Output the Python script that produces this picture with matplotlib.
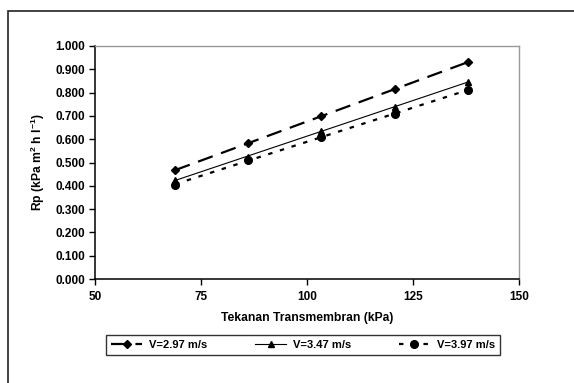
import numpy as np
import matplotlib
matplotlib.use("Agg")
import matplotlib.pyplot as plt
from matplotlib.patches import Rectangle

plt.rcParams['font.family'] = ['Liberation Sans', 'DejaVu Sans']
plt.rcParams['mathtext.default'] = 'regular'

# data (tekanan transmembran, kPa)
tmp = [68.9, 86.2, 103.4, 120.7, 137.9]
rp_297 = [0.467, 0.583, 0.700, 0.815, 0.930]
rp_347 = [0.425, 0.525, 0.635, 0.740, 0.845]
rp_397 = [0.405, 0.510, 0.610, 0.710, 0.810]
labels = ['V=2.97 m/s', 'V=3.47 m/s', 'V=3.97 m/s']

W, H = 574, 383
fig = plt.figure(figsize=(W / 100, H / 100), dpi=100)
fig.patch.set_facecolor('white')

# outer chart border
fig.patches.append(Rectangle((8 / W, -0.1), 1.2, (H - 11) / H + 0.1,
                             transform=fig.transFigure, fill=False,
                             edgecolor='#222222', linewidth=1.2))

ax = fig.add_axes([95 / W, 1 - 279 / H, (519 - 95) / W, (279 - 46) / H])

styles = [
    dict(marker='D', ms=4, ls=(0, (7, 4)), lw=1.6),
    dict(marker='^', ms=5, ls='-', lw=0.8),
    dict(marker='o', ms=5.5, ls=(0, (2, 3.5)), lw=1.6),
]
handles = []
for ys, st, lab in zip([rp_297, rp_347, rp_397], styles, labels):
    x = np.array(tmp)
    k, b = np.polyfit(x, ys, 1)
    ax.plot(x, k * x + b, color='black', ls=st['ls'], lw=st['lw'])
    ax.plot(x, ys, color='black', ls='none', marker=st['marker'], ms=st['ms'])
    h, = ax.plot([], [], color='black', ls=st['ls'], lw=st['lw'],
                 marker=st['marker'], ms=st['ms'])
    handles.append(h)

ax.set_xlim(50, 150)
ax.set_ylim(0, 1.0)
ax.set_xticks([50, 75, 100, 125, 150])
ax.set_yticks(np.arange(0, 1.01, 0.1))
ax.set_yticklabels([f'{v:.3f}' for v in np.arange(0, 1.01, 0.1)])
ax.tick_params(direction='out', length=4, width=1, labelsize=8.5, pad=3)
for lab in ax.get_xticklabels() + ax.get_yticklabels():
    lab.set_fontweight('bold')
ax.xaxis.set_tick_params(pad=5)
for s in ['top', 'right']:
    ax.spines[s].set_color('#999999')
    ax.spines[s].set_linewidth(1)
for s in ['left', 'bottom']:
    ax.spines[s].set_linewidth(1.1)

ax.set_xlabel('Tekanan Transmembran (kPa)', fontsize=8.7, fontweight='bold', labelpad=6)
ax.set_ylabel('Rp (kPa m$^{2}$ h l$^{-1}$)', fontsize=8.7, fontweight='bold', labelpad=6)

leg = fig.legend(handles, labels, loc='center', bbox_to_anchor=(303 / W, 1 - 345 / H),
                 ncol=3, prop={'weight': 'bold', 'size': 8},
                 frameon=True, fancybox=False, edgecolor='black',
                 handlelength=2.8, columnspacing=4.3, handletextpad=0.6,
                 borderpad=0.45)
leg.get_frame().set_linewidth(1)

fig.savefig('out.png', dpi=100)
